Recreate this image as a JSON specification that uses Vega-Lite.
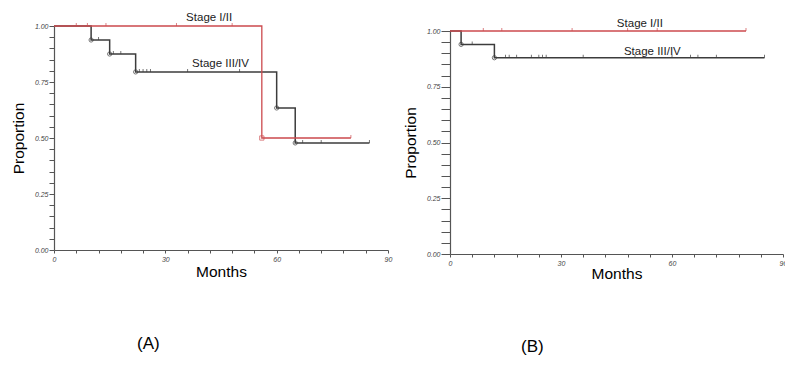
{
  "$schema": "https://vega.github.io/schema/vega-lite/v6.json",
  "padding": {"left": 11, "top": 11, "right": 0, "bottom": 0},
  "spacing": 11,
  "datasets": {
    "curves": [
      {"panel": "A", "stage": "Stage III/IV", "month": 0, "surv": 1},
      {"panel": "A", "stage": "Stage III/IV", "month": 10, "surv": 0.9375},
      {"panel": "A", "stage": "Stage III/IV", "month": 15, "surv": 0.875},
      {"panel": "A", "stage": "Stage III/IV", "month": 22, "surv": 0.795},
      {"panel": "A", "stage": "Stage III/IV", "month": 60, "surv": 0.634},
      {"panel": "A", "stage": "Stage III/IV", "month": 65, "surv": 0.478},
      {"panel": "A", "stage": "Stage III/IV", "month": 85, "surv": 0.478},
      {"panel": "A", "stage": "Stage I/II", "month": 0, "surv": 1},
      {"panel": "A", "stage": "Stage I/II", "month": 56, "surv": 0.5},
      {"panel": "A", "stage": "Stage I/II", "month": 80, "surv": 0.5},
      {"panel": "B", "stage": "Stage III/IV", "month": 0, "surv": 1},
      {"panel": "B", "stage": "Stage III/IV", "month": 3, "surv": 0.94},
      {"panel": "B", "stage": "Stage III/IV", "month": 12, "surv": 0.88},
      {"panel": "B", "stage": "Stage III/IV", "month": 85, "surv": 0.88},
      {"panel": "B", "stage": "Stage I/II", "month": 0, "surv": 1},
      {"panel": "B", "stage": "Stage I/II", "month": 80, "surv": 1}
    ],
    "events": [
      {"panel": "A", "stage": "Stage III/IV", "month": 10, "surv": 0.9375},
      {"panel": "A", "stage": "Stage III/IV", "month": 15, "surv": 0.875},
      {"panel": "A", "stage": "Stage III/IV", "month": 22, "surv": 0.795},
      {"panel": "A", "stage": "Stage III/IV", "month": 60, "surv": 0.634},
      {"panel": "A", "stage": "Stage III/IV", "month": 65, "surv": 0.478},
      {"panel": "A", "stage": "Stage I/II", "month": 56, "surv": 0.5},
      {"panel": "B", "stage": "Stage III/IV", "month": 3, "surv": 0.94},
      {"panel": "B", "stage": "Stage III/IV", "month": 12, "surv": 0.88}
    ],
    "censors": [
      {"panel": "A", "stage": "Stage I/II", "month": 6, "surv": 1},
      {"panel": "A", "stage": "Stage I/II", "month": 9, "surv": 1},
      {"panel": "A", "stage": "Stage I/II", "month": 14, "surv": 1},
      {"panel": "A", "stage": "Stage I/II", "month": 33, "surv": 1},
      {"panel": "A", "stage": "Stage I/II", "month": 48, "surv": 1},
      {"panel": "A", "stage": "Stage I/II", "month": 80, "surv": 0.5},
      {"panel": "A", "stage": "Stage III/IV", "month": 12, "surv": 0.9375},
      {"panel": "A", "stage": "Stage III/IV", "month": 16, "surv": 0.875},
      {"panel": "A", "stage": "Stage III/IV", "month": 18, "surv": 0.875},
      {"panel": "A", "stage": "Stage III/IV", "month": 23, "surv": 0.795},
      {"panel": "A", "stage": "Stage III/IV", "month": 24, "surv": 0.795},
      {"panel": "A", "stage": "Stage III/IV", "month": 25, "surv": 0.795},
      {"panel": "A", "stage": "Stage III/IV", "month": 26, "surv": 0.795},
      {"panel": "A", "stage": "Stage III/IV", "month": 36, "surv": 0.795},
      {"panel": "A", "stage": "Stage III/IV", "month": 50, "surv": 0.795},
      {"panel": "A", "stage": "Stage III/IV", "month": 67, "surv": 0.478},
      {"panel": "A", "stage": "Stage III/IV", "month": 72, "surv": 0.478},
      {"panel": "A", "stage": "Stage III/IV", "month": 85, "surv": 0.478},
      {"panel": "B", "stage": "Stage I/II", "month": 9, "surv": 1},
      {"panel": "B", "stage": "Stage I/II", "month": 14, "surv": 1},
      {"panel": "B", "stage": "Stage I/II", "month": 33, "surv": 1},
      {"panel": "B", "stage": "Stage I/II", "month": 48, "surv": 1},
      {"panel": "B", "stage": "Stage I/II", "month": 56, "surv": 1},
      {"panel": "B", "stage": "Stage I/II", "month": 80, "surv": 1},
      {"panel": "B", "stage": "Stage III/IV", "month": 6, "surv": 0.94},
      {"panel": "B", "stage": "Stage III/IV", "month": 15, "surv": 0.88},
      {"panel": "B", "stage": "Stage III/IV", "month": 16, "surv": 0.88},
      {"panel": "B", "stage": "Stage III/IV", "month": 18, "surv": 0.88},
      {"panel": "B", "stage": "Stage III/IV", "month": 22, "surv": 0.88},
      {"panel": "B", "stage": "Stage III/IV", "month": 24, "surv": 0.88},
      {"panel": "B", "stage": "Stage III/IV", "month": 25, "surv": 0.88},
      {"panel": "B", "stage": "Stage III/IV", "month": 26, "surv": 0.88},
      {"panel": "B", "stage": "Stage III/IV", "month": 36, "surv": 0.88},
      {"panel": "B", "stage": "Stage III/IV", "month": 50, "surv": 0.88},
      {"panel": "B", "stage": "Stage III/IV", "month": 60, "surv": 0.88},
      {"panel": "B", "stage": "Stage III/IV", "month": 65, "surv": 0.88},
      {"panel": "B", "stage": "Stage III/IV", "month": 67, "surv": 0.88},
      {"panel": "B", "stage": "Stage III/IV", "month": 72, "surv": 0.88},
      {"panel": "B", "stage": "Stage III/IV", "month": 85, "surv": 0.88}
    ],
    "labels": [
      {"panel": "A", "stage": "Stage I/II", "month": 35.6, "surv": 1.036, "label": "Stage I/II"},
      {"panel": "A", "stage": "Stage III/IV", "month": 37.2, "surv": 0.83, "label": "Stage III/IV"},
      {"panel": "B", "stage": "Stage I/II", "month": 45.1, "surv": 1.031, "label": "Stage I/II"},
      {"panel": "B", "stage": "Stage III/IV", "month": 47.0, "surv": 0.906, "label": "Stage III/IV"}
    ]
  },
  "hconcat": [
    {
      "width": 334,
      "height": 224,
      "title": {"text": "(A)", "orient": "bottom", "anchor": "start", "frame": "group", "dx": 83, "offset": 56, "fontSize": 17, "fontWeight": "normal", "font": "Liberation Sans", "color": "#000000"},
      "encoding": {
        "x": {"field": "month", "type": "quantitative", "scale": {"domain": [0, 90], "nice": false},
          "axis": {"title": "Months", "values": [0, 6, 12, 18, 24, 30, 36, 42, 48, 54, 60, 66, 72, 78, 84, 90], "labelExpr": "indexof([0, 30, 60, 90], datum.value) >= 0 ? datum.label : ''", "tickSize": 3, "labelPadding": 2, "titlePadding": 2}},
        "y": {"field": "surv", "type": "quantitative", "scale": {"domain": [0, 1], "nice": false},
          "axis": {"title": "Proportion", "values": [0, 0.05, 0.1, 0.15, 0.2, 0.25, 0.3, 0.35, 0.4, 0.45, 0.5, 0.55, 0.6, 0.65, 0.7, 0.75, 0.8, 0.85, 0.9, 0.95, 1], "labelExpr": "indexof([0, 0.25, 0.5, 0.75, 1], datum.value) >= 0 ? format(datum.value, '.2f') : ''", "tickSize": 5, "labelPadding": 1, "titlePadding": 8}},
        "color": {"field": "stage", "type": "nominal", "scale": {"domain": ["Stage I/II", "Stage III/IV"], "range": ["#cc4a4e", "#3c3c3c"]}, "legend": null}
      },
      "layer": [
        {"data": {"name": "curves"}, "transform": [{"filter": "datum.panel === 'A' && datum.stage === 'Stage III/IV'"}],
          "mark": {"type": "line", "interpolate": "step-after", "strokeWidth": 1.5}},
        {"data": {"name": "curves"}, "transform": [{"filter": "datum.panel === 'A' && datum.stage === 'Stage I/II'"}],
          "mark": {"type": "line", "interpolate": "step-after", "strokeWidth": 1.3}},
        {"data": {"name": "censors"}, "transform": [{"filter": "datum.panel === 'A'"}],
          "mark": {"type": "tick", "orient": "vertical", "size": 3, "thickness": 1, "yOffset": -1.5}},
        {"data": {"name": "events"}, "transform": [{"filter": "datum.panel === 'A'"}],
          "mark": {"type": "point", "filled": false, "size": 18, "strokeWidth": 1},
          "encoding": {"shape": {"field": "stage", "type": "nominal", "scale": {"domain": ["Stage I/II", "Stage III/IV"], "range": ["square", "circle"]}, "legend": null}}},
        {"data": {"name": "labels"}, "transform": [{"filter": "datum.panel === 'A'"}],
          "mark": {"type": "text", "align": "left", "baseline": "middle", "font": "Liberation Sans", "fontSize": 11.5},
          "encoding": {"text": {"field": "label", "type": "nominal"}, "color": {"value": "#222222"}}}
      ]
    },
    {
      "width": 333,
      "height": 228,
      "title": {"text": "(B)", "orient": "bottom", "anchor": "start", "frame": "group", "dx": 71, "offset": 57, "fontSize": 17, "fontWeight": "normal", "font": "Liberation Sans", "color": "#000000"},
      "encoding": {
        "x": {"field": "month", "type": "quantitative", "scale": {"domain": [0, 90], "nice": false},
          "axis": {"title": "Months", "values": [0, 6, 12, 18, 24, 30, 36, 42, 48, 54, 60, 66, 72, 78, 84, 90], "labelExpr": "indexof([0, 30, 60, 90], datum.value) >= 0 ? datum.label : ''", "tickSize": 3, "labelPadding": 2, "titlePadding": 0}},
        "y": {"field": "surv", "type": "quantitative", "scale": {"domain": [0, 1], "nice": false, "range": [228, 5]},
          "axis": {"title": "Proportion", "values": [0, 0.05, 0.1, 0.15, 0.2, 0.25, 0.3, 0.35, 0.4, 0.45, 0.5, 0.55, 0.6, 0.65, 0.7, 0.75, 0.8, 0.85, 0.9, 0.95, 1], "labelExpr": "indexof([0, 0.25, 0.5, 0.75, 1], datum.value) >= 0 ? format(datum.value, '.2f') : ''", "tickSize": 9, "labelPadding": 1, "titlePadding": 8}},
        "color": {"field": "stage", "type": "nominal", "scale": {"domain": ["Stage I/II", "Stage III/IV"], "range": ["#cc4a4e", "#3c3c3c"]}, "legend": null}
      },
      "layer": [
        {"data": {"name": "curves"}, "transform": [{"filter": "datum.panel === 'B' && datum.stage === 'Stage III/IV'"}],
          "mark": {"type": "line", "interpolate": "step-after", "strokeWidth": 1.5}},
        {"data": {"name": "curves"}, "transform": [{"filter": "datum.panel === 'B' && datum.stage === 'Stage I/II'"}],
          "mark": {"type": "line", "interpolate": "step-after", "strokeWidth": 1.3}},
        {"data": {"name": "censors"}, "transform": [{"filter": "datum.panel === 'B'"}],
          "mark": {"type": "tick", "orient": "vertical", "size": 3, "thickness": 1, "yOffset": -1.5}},
        {"data": {"name": "events"}, "transform": [{"filter": "datum.panel === 'B'"}],
          "mark": {"type": "point", "filled": false, "size": 18, "strokeWidth": 1},
          "encoding": {"shape": {"field": "stage", "type": "nominal", "scale": {"domain": ["Stage I/II", "Stage III/IV"], "range": ["square", "circle"]}, "legend": null}}},
        {"data": {"name": "labels"}, "transform": [{"filter": "datum.panel === 'B'"}],
          "mark": {"type": "text", "align": "left", "baseline": "middle", "font": "Liberation Sans", "fontSize": 11.5},
          "encoding": {"text": {"field": "label", "type": "nominal"}, "color": {"value": "#222222"}}}
      ]
    }
  ],
  "config": {
    "view": {"stroke": null},
    "axis": {"grid": false, "domainColor": "#555555", "tickColor": "#555555", "domainWidth": 1.2, "labelFont": "Liberation Sans", "labelFontSize": 7, "labelFontStyle": "italic", "labelColor": "#444444", "titleFont": "Liberation Sans", "titleFontSize": 15.5, "titleFontWeight": "normal", "titleColor": "#000000", "labelOverlap": false, "labelFlush": false}
  }
}
